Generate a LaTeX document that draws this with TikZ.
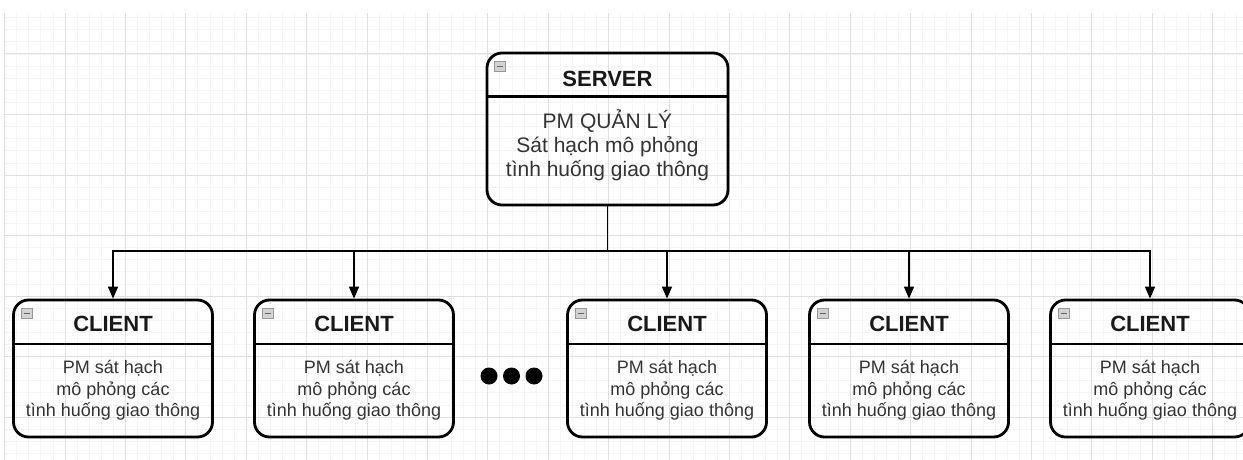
\documentclass[tikz,border=0pt]{standalone}
\usepackage{fontspec}
\setmainfont{Liberation Sans}
\usetikzlibrary{arrows.meta,calc}
\definecolor{gridminor}{RGB}{245,245,245}
\definecolor{gridmajor}{RGB}{224,224,224}
\tikzset{
  box/.style={draw=black, line width=2.8pt, rounded corners=15pt,
              minimum width=199pt, minimum height=137pt, inner sep=0pt},
  divider/.style={draw=black, line width=2.2pt},
  headtxt/.style={font=\fontsize{22}{24}\selectfont\bfseries, text=black!90},
  bodytxt/.style={font=\fontsize{18}{21.5}\selectfont, align=center, text=black!80},
  link/.style={line width=1.6pt},
  arrow/.style={-{Triangle[length=12pt, width=10pt]}, line width=1.6pt},
}
\newcommand{\minusicon}[1]{%
  \draw[draw=gray!80, fill=gray!35, line width=0.9pt] ($(#1.north west)+(9,10)$) rectangle ++(11,10);
  \draw[gray!80!black, line width=1.1pt] ($(#1.north west)+(11.5,15)$) -- ++(6,0);}

\begin{document}
\begin{tikzpicture}[x=1pt, y=-1pt]
  \useasboundingbox[fill=white] (0,0) rectangle (1243,460);
  % background grid
  \foreach \gx in {0,...,102} \draw[gridminor, line width=0.8pt] ({4.6+12.08*\gx},13) -- (4.6+12.08*\gx,460);
  \foreach \gy in {0,...,36} \draw[gridminor, line width=0.8pt] (5,{17.7+12.1*\gy}) -- (1243,17.7+12.1*\gy);
  \foreach \gx in {0,...,20} \draw[gridmajor, line width=1pt] ({4.6+60.4*\gx},13) -- (4.6+60.4*\gx,460);
  \foreach \gy in {0,...,6} \draw[gridmajor, line width=1pt] (5,{54+60.5*\gy}) -- (1243,54+60.5*\gy);

  % server
  \node[box, minimum width=241pt, minimum height=152pt] (server) at (607.5,129) {};
  \draw[divider] ($(server.north west)+(0,45)$) -- ($(server.north east)+(0,45)$);
  \node[headtxt] (server-head) at ($(server.north)+(0,27)$) {SERVER};
  \node[bodytxt, font=\fontsize{21}{24}\selectfont] (server-body) at ($(server.north)+(0,94)$)
    {PM QUẢN LÝ\\Sát hạch mô phỏng\\tình huống giao thông};
  \minusicon{server}

  % clients
  \foreach \i/\cx in {1/113, 2/354, 3/667, 4/909, 5/1150} {
    \node[box] (client\i) at (\cx,368.5) {};
    \draw[divider] ($(client\i.north west)+(0,45)$) -- ($(client\i.north east)+(0,45)$);
    \node[headtxt] (client\i-head) at ($(client\i.north)+(0,25)$) {CLIENT};
    \node[bodytxt] (client\i-body) at ($(client\i.north)+(0,92)$)
      {PM sát hạch\\mô phỏng các\\tình huống giao thông};
    \minusicon{client\i}
  }

  % dots between client 2 and 3
  \foreach \dx in {489,511.5,534} \fill[black] (\dx,376) circle (8.5pt);

  % connectors
  \coordinate (bus) at (607.5,251);
  \draw[link] (server.south) -- (bus);
  \foreach \i in {1,...,5} \draw[arrow] (bus) -| (client\i.north);
\end{tikzpicture}
\end{document}
